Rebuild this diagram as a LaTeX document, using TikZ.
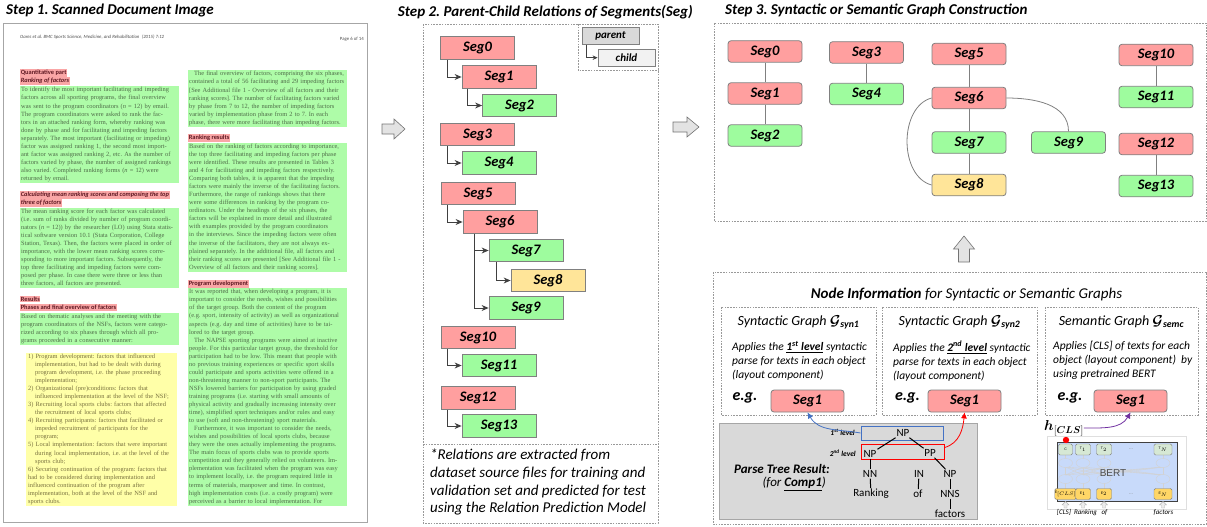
\documentclass[tikz,border=0pt]{standalone}
\usepackage{fontspec}
\setmainfont{Carlito}
\newfontfamily\docfont{Liberation Serif}
\newfontfamily\bertfont{Liberation Sans}
\usepackage{amsmath,bm}
\usetikzlibrary{arrows.meta,calc,positioning}
\setlength{\parindent}{0pt}
\frenchspacing

\definecolor{segred}{RGB}{255,159,159}
\definecolor{seggreen}{RGB}{158,252,158}
\definecolor{segyellow}{RGB}{255,229,153}
\definecolor{docgreen}{RGB}{174,252,168}
\definecolor{docred}{RGB}{250,166,166}
\definecolor{docyellow}{RGB}{255,255,168}
\definecolor{doctext}{RGB}{78,108,72}
\definecolor{dochtext}{RGB}{95,25,35}
\definecolor{docytext}{RGB}{120,112,62}
\definecolor{linkgray}{RGB}{64,64,64}
\definecolor{bertblue}{RGB}{200,218,250}
\definecolor{berttop}{RGB}{214,232,212}
\definecolor{bertbot}{RGB}{255,214,102}
\definecolor{lvlblue}{RGB}{68,114,196}
\definecolor{clspurple}{RGB}{112,48,160}

\tikzset{
>=Stealth,
seg node/.style={rectangle,draw=gray,line width=0.8pt,minimum width=74pt,minimum height=22.5pt,inner sep=0pt,font=\fontsize{14.5}{16}\selectfont\bfseries\itshape},
parent node/.style={seg node,fill=segred},
child node/.style={seg node,fill=seggreen},
leaf node/.style={seg node,fill=segyellow},
graph node/.style={rounded corners=3pt,minimum height=21.5pt},
tree arrow/.style={-{Stealth[length=7pt,width=6pt]},draw=linkgray,line width=0.9pt},
graph edge/.style={draw=gray,line width=0.8pt},
dashed frame/.style={draw=gray!80,line width=0.6pt,dash pattern=on 1.6pt off 1.2pt},
block arrow/.style={draw=gray!90!black,fill=gray!22,line width=0.6pt},
step title/.style={inner sep=0pt,font=\fontsize{15}{18}\selectfont\bfseries\itshape},
doc par/.style={anchor=north west,fill=docgreen,text=doctext,text width=157pt,inner xsep=1pt,inner ysep=1.2pt,font=\docfont\fontsize{6.4}{8.05}\selectfont},
doc head/.style={anchor=west,fill=docred,text=dochtext,inner xsep=0.6pt,inner ysep=0.9pt,font=\fontsize{6.4}{7}\selectfont\bfseries},
info title/.style={inner sep=0pt,font=\fontsize{14}{16}\selectfont\itshape},
info body/.style={anchor=north west,align=left,inner sep=0pt,font=\fontsize{11.5}{14}\selectfont\itshape},
eg label/.style={inner sep=0pt,font=\fontsize{16}{18}\selectfont\bfseries\itshape},
tree label/.style={inner sep=1pt,font=\fontsize{11}{12}\selectfont},
level label/.style={anchor=east,inner sep=0pt,font=\fontsize{7.5}{8}\selectfont\bfseries\itshape},
bert token/.style={draw=gray,rounded corners=1.5pt,minimum width=15pt,minimum height=11pt,inner sep=0pt,font=\bertfont\fontsize{3.5}{4}\selectfont}}

\begin{document}
\begin{tikzpicture}[x=1pt,y=1pt,inner sep=1pt,font=\small]
\useasboundingbox (0,0) rectangle (1207,-527);

% Step 1
\node[step title,anchor=west] (t1) at (6,-11) {Step 1. Scanned Document Image};
\draw[gray!70,line width=0.9pt] (3,-23) rectangle (367,-522);
\node[anchor=west,inner sep=0pt,text=black!70,font=\fontsize{4.8}{5}\selectfont\itshape] (hdr) at (20,-37) {Oares et al. BMC Sports Science, Medicine, and Rehabilitation\enspace(2015) 7:12};
\node[anchor=east,inner sep=0pt,text=black!70,font=\fontsize{4.8}{5}\selectfont] (pg) at (364,-39) {Page 6 of 14};

\node[doc head] (h1) at (20,-73) {Quantitative part};
\node[doc head,font=\fontsize{6.4}{7}\selectfont\bfseries\itshape] (h2) at (20,-81) {Ranking of factors};
\node[doc par] (p1) at (20,-86) {To identify the most important facilitating and impeding\break
factors across all sporting programs, the final overview\break
was sent to the program coordinators (\textit{n} = 12) by email.\break
The program coordinators were asked to rank the fac-\break
tors in an attached ranking form, whereby ranking was\break
done by phase and for facilitating and impeding factors\break
separately. The most important (facilitating or impeding)\break
factor was assigned ranking 1, the second most import-\break
ant factor was assigned ranking 2, etc. As the number of\break
factors varied by phase, the number of assigned rankings\break
also varied. Completed ranking forms (\textit{n} = 12) were\break
returned by email.};
\node[doc head,font=\fontsize{6.4}{7}\selectfont\bfseries\itshape] (h3) at (20,-195) {Calculating mean ranking scores and composing the top};
\node[doc head,font=\fontsize{6.4}{7}\selectfont\bfseries\itshape] (h4) at (20,-203) {three of factors};
\node[doc par] (p2) at (20,-207.5) {The mean ranking score for each factor was calculated\break
(i.e. sum of ranks divided by number of program coordi-\break
nators (\textit{n} = 12)) by the researcher (LO) using Stata statis-\break
tical software version 10.1 (Stata Corporation, College\break
Station, Texas). Then, the factors were placed in order of\break
importance, with the lower mean ranking scores corre-\break
sponding to more important factors. Subsequently, the\break
top three facilitating and impeding factors were com-\break
posed per phase. In case there were three or less than\break
three factors, all factors are presented.};
\node[doc head] (h5) at (20,-299) {Results};
\node[doc head] (h6) at (20,-307.5) {Phases and final overview of factors};
\node[doc par] (p3) at (20,-312.5) {Based on thematic analyses and the meeting with the\break
program coordinators of the NSFs, factors were catego-\break
rized according to six phases through which all pro-\break
grams proceeded in a consecutive manner:};
\node[doc par,fill=docyellow,text=docytext,text width=147pt,inner xsep=2pt,align=left] (p4) at (26,-352.5) {%
\hangindent=7pt\hangafter=1 1) Program development: factors that influenced\newline implementation, but had to be dealt with during\newline program development, i.e. the phase proceeding\newline implementation;\par
\hangindent=7pt\hangafter=1 2) Organizational (pre)conditions: factors that\newline influenced implementation at the level of the NSF;\par
\hangindent=7pt\hangafter=1 3) Recruiting local sports clubs: factors that affected\newline the recruitment of local sports clubs;\par
\hangindent=7pt\hangafter=1 4) Recruiting participants: factors that facilitated or\newline impeded recruitment of participants for the\newline program;\par
\hangindent=7pt\hangafter=1 5) Local implementation: factors that were important\newline during local implementation, i.e. at the level of the\newline sports club;\par
\hangindent=7pt\hangafter=1 6) Securing continuation of the program: factors that\newline had to be considered during implementation and\newline influenced continuation of the program after\newline implementation, both at the level of the NSF and\newline sports clubs.};

\node[doc par] (r1) at (188,-70) {\hspace*{5pt}The final overview of factors, comprising the six phases,\break
contained a total of 56 facilitating and 29 impeding factors\break
[See Additional file 1 - Overview of all factors and their\break
ranking scores]. The number of facilitating factors varied\break
by phase from 7 to 12, the number of impeding factors\break
varied by implementation phase from 2 to 7. In each\break
phase, there were more facilitating than impeding factors.};
\node[doc head] (h7) at (188,-138) {Ranking results};
\node[doc par] (r2) at (188,-142.5) {Based on the ranking of factors according to importance,\break
the top three facilitating and impeding factors per phase\break
were identified. These results are presented in Tables 3\break
and 4 for facilitating and impeding factors respectively.\break
Comparing both tables, it is apparent that the impeding\break
factors were mainly the inverse of the facilitating factors.\break
Furthermore, the range of rankings shows that there\break
were some differences in ranking by the program co-\break
ordinators. Under the headings of the six phases, the\break
factors will be explained in more detail and illustrated\break
with examples provided by the program coordinators\break
in the interviews. Since the impeding factors were often\break
the inverse of the facilitators, they are not always ex-\break
plained separately. In the additional file, all factors and\break
their ranking scores are presented [See Additional file 1 -\break
Overview of all factors and their ranking scores].};
\node[doc head] (h8) at (188,-284) {Program development};
\node[doc par] (r3) at (188,-288) {It was reported that, when developing a program, it is\break
important to consider the needs, wishes and possibilities\break
of the target group. Both the content of the program\break
(e.g. sport, intensity of activity) as well as organizational\break
aspects (e.g. day and time of activities) have to be tai-\break
lored to the target group.\par
\hspace*{5pt}The NAPSE sporting programs were aimed at inactive\break
people. For this particular target group, the threshold for\break
participation had to be low. This meant that people with\break
no previous training experiences or specific sport skills\break
could participate and sports activities were offered in a\break
non-threatening manner to non-sport participants. The\break
NSFs lowered barriers for participation by using graded\break
training programs (i.e. starting with small amounts of\break
physical activity and gradually increasing intensity over\break
time), simplified sport techniques and/or rules and easy\break
to use (soft and non-threatening) sport materials.\par
\parfillskip=0pt
\hspace*{5pt}Furthermore, it was important to consider the needs,\break
wishes and possibilities of local sports clubs, because\break
they were the ones actually implementing the programs.\break
The main focus of sports clubs was to provide sports\break
competition and they generally relied on volunteers. Im-\break
plementation was facilitated when the program was easy\break
to implement locally, i.e. the program required little in\break
terms of materials, manpower and time. In contrast,\break
high implementation costs (i.e. a costly program) were\break
perceived as a barrier to local implementation. For};

\draw[block arrow] (382,-124) -- ++(12,0) -- ++(0,5) -- ++(11,-10) -- ++(-11,-10) -- ++(0,5) -- ++(-12,0) -- cycle;

% Step 2
\node[step title,anchor=east] (t2) at (693,-12) {Step 2. Parent-Child Relations of Segments(Seg)};
\draw[dashed frame] (423,-24) rectangle (658,-523);
\draw[dashed frame] (423,-444) -- (658,-444);
\draw[dashed frame] (578,-24) rectangle (658,-70);
\node[seg node,fill=gray!30,minimum width=57pt,minimum height=16.5pt,font=\fontsize{11}{12}\selectfont\bfseries\itshape] (lp) at (610.5,-36) {parent};
\node[seg node,fill=gray!10,minimum width=57pt,minimum height=16.5pt,font=\fontsize{11}{12}\selectfont\bfseries\itshape] (lc) at (626.5,-57.7) {child};
\draw[tree arrow,-{Stealth[length=5pt,width=4.5pt]},line width=0.7pt] ([xshift=5pt]lp.south west) |- (lc.west);

\node[parent node] (s0) at (477.5,-48) {Seg0};
\node[parent node] (s1) at (499,-77) {Seg1};
\node[child node] (s2) at (519.5,-105.5) {Seg2};
\node[parent node] (s3) at (477.5,-134.5) {Seg3};
\node[child node] (s4) at (499,-163) {Seg4};
\node[parent node] (s5) at (478,-193.5) {Seg5};
\node[parent node] (s6) at (500,-222) {Seg6};
\node[child node] (s7) at (526,-250.5) {Seg7};
\node[leaf node] (s8) at (548,-280.5) {Seg8};
\node[child node] (s9) at (526,-308) {Seg9};
\node[parent node] (s10) at (478,-337.5) {Seg10};
\node[child node] (s11) at (499,-365.5) {Seg11};
\node[parent node] (s12) at (478,-398) {Seg12};
\node[child node] (s13) at (499,-426) {Seg13};

\draw[tree arrow] ([xshift=7pt]s0.south west) |- (s1.west);
\draw[tree arrow] ([xshift=6pt]s1.south west) |- (s2.west);
\draw[tree arrow] ([xshift=7pt]s3.south west) |- (s4.west);
\draw[tree arrow] ([xshift=7pt]s5.south west) |- (s6.west);
\draw[tree arrow] ([xshift=12pt]s6.south west) |- (s7.west);
\draw[tree arrow] ([xshift=8pt]s7.south west) |- (s8.west);
\draw[tree arrow] ([xshift=12pt]s6.south west) |- (s9.west);
\draw[tree arrow] ([xshift=7pt]s10.south west) |- (s11.west);
\draw[tree arrow] ([xshift=7pt]s12.south west) |- (s13.west);

\node[anchor=north west,align=left,inner sep=0pt,font=\fontsize{15}{17.7}\selectfont\itshape] (note) at (430,-449) {*Relations are extracted from\\dataset source files for training and\\validation set and predicted for test\\using the Relation Prediction Model};

\draw[block arrow] (673,-122) -- ++(14,0) -- ++(0,5) -- ++(12,-10) -- ++(-12,-10) -- ++(0,5) -- ++(-14,0) -- cycle;

% Step 3
\node[step title,anchor=west] (t3) at (725,-10) {Step 3. Syntactic or Semantic Graph Construction};
\draw[dashed frame] (714,-23) rectangle (1206,-221);

\node[parent node,graph node] (g0) at (765,-51.5) {Seg0};
\node[parent node,graph node] (g1) at (765,-93.5) {Seg1};
\node[child node,graph node] (g2) at (765,-135.5) {Seg2};
\node[parent node,graph node] (g3) at (866.5,-52.5) {Seg3};
\node[child node,graph node] (g4) at (866.5,-94) {Seg4};
\node[parent node,graph node] (g5) at (969,-54) {Seg5};
\node[parent node,graph node] (g6) at (969,-98) {Seg6};
\node[child node,graph node] (g7) at (969,-142.5) {Seg7};
\node[leaf node,graph node] (g8) at (969,-185) {Seg8};
\node[child node,graph node] (g9) at (1068.5,-142.5) {Seg9};
\node[parent node,graph node] (g10) at (1156,-55) {Seg10};
\node[child node,graph node] (g11) at (1156,-97) {Seg11};
\node[parent node,graph node] (g12) at (1156,-144) {Seg12};
\node[child node,graph node] (g13) at (1156,-186) {Seg13};

\path[graph edge] (g0) edge (g1);
\path[graph edge] (g1) edge (g2);
\path[graph edge] (g3) edge (g4);
\path[graph edge] (g5) edge (g6);
\path[graph edge] (g6) edge (g7);
\path[graph edge] (g7) edge (g8);
\path[graph edge] (g10) edge (g11);
\path[graph edge] (g12) edge (g13);
\draw[graph edge] (g6.west) to[out=195,in=165] (g8.west);
\draw[graph edge] (g6.east) to[out=0,in=90] (g9.north);

\draw[block arrow] (958.5,-262) -- ++(0,13) -- ++(-5,0) -- ++(10.5,13) -- ++(10.5,-13) -- ++(-5,0) -- ++(0,-13) -- cycle;

% node information
\draw[dashed frame] (713,-272) rectangle (1206,-524);
\node[info title,font=\fontsize{15}{17}\selectfont\itshape] (it) at (966.5,-294) {\textbf{Node Information} for Syntactic or Semantic Graphs};
\draw[dashed frame] (721,-307) rectangle (876,-415);
\draw[dashed frame] (882,-307) rectangle (1037,-415);
\draw[dashed frame] (1045,-307) rectangle (1198,-415);

\node[info title] (it1) at (798.5,-322) {Syntactic Graph $\boldsymbol{\mathcal{G}}_{\text{\bfseries syn1}}$};
\node[info title] (it2) at (959.5,-322) {Syntactic Graph $\boldsymbol{\mathcal{G}}_{\text{\bfseries syn2}}$};
\node[info title] (it3) at (1121.5,-322) {Semantic Graph $\boldsymbol{\mathcal{G}}_{\text{\bfseries semc}}$};

\node[info body] (ib1) at (732,-341) {Applies the \underline{\textbf{1\textsuperscript{st} level}} syntactic\\parse for texts in each object\\(layout component)};
\node[info body] (ib2) at (893,-341) {Applies the \underline{\textbf{2\textsuperscript{nd} level}} syntactic\\parse for texts in each object\\(layout component)};
\node[info body] (ib3) at (1053,-341) {Applies [CLS] of texts for each\\object (layout component)\ \ by\\using pretrained BERT};

\node[eg label] (eg1) at (745,-398) {e.g.};
\node[eg label] (eg2) at (907.5,-398) {e.g.};
\node[eg label] (eg3) at (1070,-398) {e.g.};
\node[parent node,graph node,minimum width=73pt,minimum height=22pt] (e1) at (807.5,-401) {Seg1};
\node[parent node,graph node,minimum width=73pt,minimum height=22pt] (e2) at (964.5,-401) {Seg1};
\node[parent node,graph node,minimum width=73pt,minimum height=22pt] (e3) at (1130.5,-401) {Seg1};

% parse tree
\draw[fill=black!15,draw=black!35,line width=0.6pt] (719,-423) rectangle (977,-519);
\node[draw=lvlblue,line width=1pt,minimum width=82pt,minimum height=14pt,inner sep=0pt] (lv1) at (902,-433) {};
\node[draw=red,line width=1pt,minimum width=83pt,minimum height=15pt,inner sep=0pt] (lv2) at (902.5,-451.5) {};
\node[level label] (l1) at (855,-432) {1\textsuperscript{st} level};
\node[level label] (l2) at (856,-453) {2\textsuperscript{nd} level};

\node[tree label] (np) at (903,-433) {NP};
\node[tree label] (npl) at (870,-454) {NP};
\node[tree label] (pp) at (930,-453) {PP};
\node[tree label] (nn) at (870,-474) {NN};
\node[tree label] (in) at (919,-474) {IN};
\node[tree label] (npr) at (950,-474) {NP};
\node[tree label] (rk) at (871,-494) {Ranking};
\node[tree label] (of) at (918,-494) {of};
\node[tree label] (nns) at (950,-494) {NNS};
\node[tree label] (fc) at (950,-514) {factors};
\draw[line width=1pt] (np) -- (npl);
\draw[line width=1pt] (np) -- (pp);
\draw[line width=1pt] (pp) -- (npr);
\draw[line width=1pt] (npl) -- (nn);
\draw[line width=1pt] (nn) -- (rk);
\draw[line width=1pt] (in) -- (of);
\draw[line width=1pt] (npr) -- (nns);
\draw[line width=1pt] (nns) -- (fc);

\node[anchor=east,inner sep=0pt,font=\fontsize{13}{15}\selectfont\bfseries\itshape] (ptr) at (830,-469) {Parse Tree Result:};
\node[anchor=east,inner sep=0pt,font=\fontsize{13}{15}\selectfont\itshape] (ptc) at (826,-484) {(for \underline{\textbf{Comp1}})};

\draw[lvlblue,line width=0.8pt,-{Latex[length=6pt,width=6pt]}] (lv1.west) to[out=170,in=-60] (e1.south);
\draw[red,line width=0.8pt,-{Latex[length=6pt,width=6pt]}] ([yshift=4pt]lv2.east) to[out=15,in=-95] (e2.south);

% BERT
\node[inner sep=0pt,font=\fontsize{14}{16}\selectfont] (hcls) at (1064,-428) {$\boldsymbol{h}_{[\boldsymbol{CLS}]}$};
\draw[clspurple,line width=0.8pt,-{Latex[length=6pt,width=6pt]}] (hcls.east) to[out=0,in=-120] (e3.south);
\draw[gray!25,line width=0.6pt] (1047,-436) rectangle (1186,-509);
\draw[fill=bertblue,draw=black!75,line width=1pt] (1057,-442) rectangle (1177,-501);
\foreach \cx in {1065.5,1083,1104,1163}{
  \foreach \dx in {1065.5,1083,1104,1163}
    \draw[gray!35,line width=0.4pt] (\cx,-467) -- (\dx,-475);
  \draw[gray!35,line width=0.4pt] (\cx,-455) -- (\cx,-489);
  \draw[gray!35,fill=bertblue,line width=0.4pt] (\cx,-463) ellipse [x radius=7,y radius=4.5];
  \draw[gray!35,fill=bertblue,line width=0.4pt] (\cx,-479) ellipse [x radius=7,y radius=4.5];
  \draw[gray!60,fill=gray!15,line width=0.4pt] (\cx,-508) ++(-1.5,0) -- ++(0,3) -- ++(-2,0) -- ++(3.5,3.5) -- ++(3.5,-3.5) -- ++(-2,0) -- ++(0,-3) -- cycle;
}
\node[bert token,fill=berttop,minimum width=14pt] (tc) at (1065.5,-449.5) {C};
\node[bert token,fill=berttop] (t1) at (1083,-449.5) {T$_1$};
\node[bert token,fill=berttop] (t2) at (1104,-449.5) {T$_2$};
\node[bert token,fill=berttop,minimum width=18pt] (tn) at (1163,-449.5) {T$_N$};
\node[bert token,fill=bertbot,minimum width=14pt] (ec) at (1065.5,-494) {E$_{[CLS]}$};
\node[bert token,fill=bertbot] (e1t) at (1083,-494) {E$_1$};
\node[bert token,fill=bertbot] (e2t) at (1104,-494) {E$_2$};
\node[bert token,fill=bertbot,minimum width=18pt] (ent) at (1163,-494) {E$_N$};
\node[inner sep=0pt,text=gray,font=\bertfont\fontsize{5}{5}\selectfont] (dt) at (1131,-449.5) {...};
\node[inner sep=0pt,text=gray,font=\bertfont\fontsize{5}{5}\selectfont] (db) at (1131,-494) {...};
\node[inner sep=0pt,text=black!70,font=\bertfont\fontsize{10}{11}\selectfont] (bert) at (1113,-473) {BERT};
\fill[red] (1066,-440) circle (3.2);
\node[inner sep=0pt,font=\fontsize{7}{8}\selectfont\itshape] (w0) at (1064,-512.5) {[CLS]};
\node[inner sep=0pt,font=\fontsize{7}{8}\selectfont\itshape] (w1) at (1085.5,-512.5) {Ranking};
\node[inner sep=0pt,font=\fontsize{7}{8}\selectfont\itshape] (w2) at (1104.5,-512.5) {of};
\node[inner sep=0pt,font=\fontsize{7}{8}\selectfont\itshape] (w3) at (1163.5,-512.5) {factors};

\end{tikzpicture}
\end{document}
